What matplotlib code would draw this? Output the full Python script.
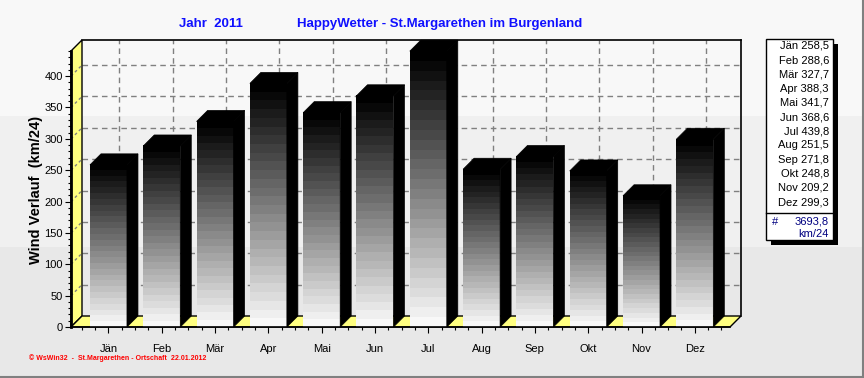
import numpy as np
import matplotlib.pyplot as plt
from matplotlib.patches import Polygon, Rectangle
from matplotlib.lines import Line2D
from matplotlib.colors import LinearSegmentedColormap

plt.rcParams['font.family'] = ['Liberation Sans', 'DejaVu Sans']

# Daten
months = ['Jän', 'Feb', 'Mär', 'Apr', 'Mai', 'Jun', 'Jul', 'Aug', 'Sep', 'Okt', 'Nov', 'Dez']
wind = [258.5, 288.6, 327.7, 388.3, 341.7, 368.6, 439.8, 251.5, 271.8, 248.8, 209.2, 299.3]
unit = 'km/24'
title_year = 'Jahr  2011'
title_main = 'HappyWetter - St.Margarethen im Burgenland'
ylabel = 'Wind Verlauf  (km/24)'
footer = '© WsWin32  -  St.Margarethen - Ortschaft  22.01.2012'
yticks = list(range(0, 401, 50))

W, H = 864, 378


def px(x, y):
    # Pixel -> Figurkoordinaten
    return x / W, 1 - y / H


def fmt(v):
    return f'{v:.1f}'.replace('.', ',')


fig = plt.figure(figsize=(W / 100, H / 100), dpi=100, facecolor='#e8e8e8')
# Hintergrundstreifen
fig.patches.append(Rectangle(px(0, 247), 1, 131 / H, transform=fig.transFigure,
                             facecolor='#f0f0f0', edgecolor='none', zorder=-10))
fig.patches.append(Rectangle(px(0, 116), 1, 116 / H, transform=fig.transFigure,
                             facecolor='#f8f8f8', edgecolor='none', zorder=-10))

# Achse = Vorderebene
left, right, bottom, top = 71, 730, 327, 51
ax = fig.add_axes([left / W, 1 - bottom / H, (right - left) / W, (bottom - top) / H])
ax.patch.set_alpha(0)
xmin, xmax = -0.703, 11.66
ymin, ymax = 0, 440
depth = 11  # Pixel
dx = depth * (xmax - xmin) / (right - left)
dy = depth * (ymax - ymin) / (bottom - top)
bw = 0.694

grid_kw = dict(color='#808080', lw=1, ls=(0, (4, 3)), clip_on=False, zorder=1)
# Rückwand-Gitter
for t in yticks[1:]:
    ax.plot([xmin + dx, xmax + dx], [t + dy, t + dy], **grid_kw)
for i in range(len(months)):
    ax.plot([i + dx, i + dx], [dy, ymax + dy], **grid_kw)
ax.plot([xmin + dx, xmax + dx], [ymax + dy, ymax + dy], color='black', lw=1.2, clip_on=False)
ax.plot([xmax + dx, xmax + dx], [dy, ymax + dy], color='black', lw=1.2, clip_on=False)

# linke Wand und Boden
ax.add_patch(Polygon([(xmin, 0), (xmin, ymax), (xmin + dx, ymax + dy), (xmin + dx, dy)],
                     closed=True, facecolor='#ffff80', edgecolor='black', lw=1,
                     clip_on=False, zorder=1.5))
ax.add_patch(Polygon([(xmin, 0), (xmax, 0), (xmax + dx, dy), (xmin + dx, dy)],
                     closed=True, facecolor='#ffff80', edgecolor='black', lw=1,
                     clip_on=False, zorder=1.5))
for t in yticks[1:]:
    ax.plot([xmin, xmin + dx], [t, t + dy], color='#808080', lw=1, ls=(0, (2, 2)),
            clip_on=False, zorder=1.6)

# Balken
cmap = LinearSegmentedColormap.from_list('bar', ['#000000', '#f8f8f8'])
grad = np.linspace(1, 0, 28).reshape(-1, 1)
for i, v in enumerate(wind):
    x0 = i - bw / 2
    x1 = x0 + bw
    ax.imshow(grad, extent=(x0, x1, 0, v), cmap=cmap, aspect='auto', origin='lower',
              interpolation='nearest', zorder=3)
    ax.add_patch(Polygon([(x1, 0), (x1 + dx, dy), (x1 + dx, v + dy), (x1, v)], closed=True,
                         facecolor='black', edgecolor='black', lw=0.5, clip_on=False, zorder=3))
    ax.add_patch(Polygon([(x0, v), (x0 + dx, v + dy), (x1 + dx, v + dy), (x1, v)], closed=True,
                         facecolor='black', edgecolor='black', lw=0.5, clip_on=False, zorder=3))

ax.set_xlim(xmin, xmax)
ax.set_ylim(ymin, ymax)
ax.set_yticks(yticks)
ax.set_yticks(range(0, 441, 10), minor=True)
ax.set_xticks(range(len(months)))
ax.set_xticklabels(months)
ax.set_xticks(np.arange(-0.5, 11.6, 0.25), minor=True)
ax.tick_params(axis='both', which='major', direction='out', length=4, width=0.8,
               labelsize=8, colors='black')
ax.tick_params(axis='both', which='minor', direction='out', length=2, width=0.8)
ax.tick_params(axis='x', which='major', pad=8)
ax.tick_params(axis='y', which='major', pad=2)
for s in ['top', 'right']:
    ax.spines[s].set_visible(False)
ax.spines['left'].set_linewidth(2)
ax.spines['bottom'].set_linewidth(1.2)
ax.spines['left'].set_zorder(5)
ax.spines['bottom'].set_zorder(5)

# Titel und Beschriftungen
fig.text(*px(211, 24), title_year, color='#1010ff', fontsize=9.5, fontweight='bold',
         ha='center', va='center')
fig.text(*px(440, 24), title_main, color='#1010ff', fontsize=9.5, fontweight='bold',
         ha='center', va='center')
fig.text(*px(36, 190), ylabel, rotation=90, fontsize=10.5, fontweight='bold',
         ha='center', va='center')
fig.text(*px(29, 358), footer, color='#ff0000', fontsize=5, fontweight='bold',
         ha='left', va='center')

# Werte-Box rechts
bx0, bx1, by0, by1 = 766, 833, 39, 240
fig.patches.append(Rectangle(px(bx0 + 5, by1 + 5), (bx1 - bx0) / W, (by1 - by0) / H,
                             transform=fig.transFigure, facecolor='black', edgecolor='none', zorder=5))
fig.patches.append(Rectangle(px(bx0, by1), (bx1 - bx0) / W, (by1 - by0) / H,
                             transform=fig.transFigure, facecolor='white', edgecolor='black',
                             lw=1, zorder=6))
for k, (m, v) in enumerate(zip(months, wind)):
    fig.text(*px(829, 46 + 14.2 * k), f'{m} {fmt(v)}', fontsize=8, ha='right', va='center',
             zorder=7)
fig.add_artist(Line2D([bx0 / W, bx1 / W], [1 - 213 / H] * 2, color='black', lw=1,
                      transform=fig.transFigure, zorder=7))
fig.text(*px(772, 222), '#', fontsize=8, color='#000080', ha='left', va='center', zorder=7)
fig.text(*px(829, 222), fmt(sum(wind)), fontsize=8, color='#000080', ha='right',
         va='center', zorder=7)
fig.text(*px(829, 234), unit, fontsize=8, color='#000080', ha='right', va='center', zorder=7)

# Rahmen
fig.add_artist(Line2D([862.5 / W] * 2, [0, 1], color='#808080', lw=1.5, transform=fig.transFigure))
fig.add_artist(Line2D([0, 1], [1 - 376.5 / H] * 2, color='#808080', lw=1.5, transform=fig.transFigure))

fig.savefig('out.png', dpi=100, facecolor=fig.get_facecolor())
